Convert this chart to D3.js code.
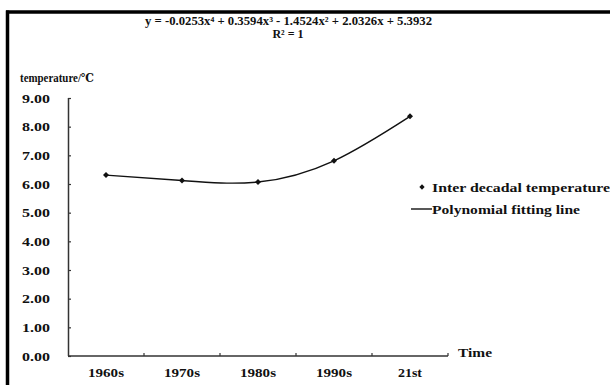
<!DOCTYPE html>
<html>
<head>
<meta charset="utf-8">
<script src="https://cdn.jsdelivr.net/npm/d3@7"></script>
<style>
  body { margin: 0; background: #fff; }
  text { font-family: "Liberation Serif", "DejaVu Serif", serif; font-weight: bold; fill: #111; }
</style>
</head>
<body>
<div id="chart"></div>
<script>
const categories = ['1960s', '1970s', '1980s', '1990s', '21st'];
const temperature = [6.31, 6.12, 6.07, 6.81, 8.36];
const yTicks = [0, 1, 2, 3, 4, 5, 6, 7, 8, 9];
const equation = 'y = -0.0253x\u2074 + 0.3594x\u00B3 - 1.4524x\u00B2 + 2.0326x + 5.3932';
const rSquared = 'R\u00B2 = 1';

const width = 610, height = 385;
const margin = { left: 68, right: 162, top: 98, bottom: 29 };

const svg = d3.select('#chart').append('svg')
  .attr('width', width)
  .attr('height', height);

svg.append('rect').attr('width', width).attr('height', height).attr('fill', '#fff');

// cropped frame: top and left edge only
svg.append('line').attr('x1', 6).attr('x2', width).attr('y1', 12).attr('y2', 12)
  .attr('stroke', '#000').attr('stroke-width', 3.5);
svg.append('line').attr('x1', 7.5).attr('x2', 7.5).attr('y1', 10.5).attr('y2', height)
  .attr('stroke', '#000').attr('stroke-width', 3.5);

const x = d3.scaleBand()
  .domain(categories)
  .range([margin.left, width - margin.right]);

const y = d3.scaleLinear()
  .domain([0, 9])
  .range([height - margin.bottom, margin.top]);

// y axis
const yAxis = svg.append('g')
  .attr('transform', `translate(${margin.left},0)`)
  .call(d3.axisRight(y).tickValues(yTicks).tickSize(3).tickFormat(''));
yAxis.select('.domain').attr('d', `M0.5,${y(9)}V${y(0)}`).attr('stroke', '#333').attr('stroke-width', 1.5);
yAxis.selectAll('.tick line').attr('stroke', '#333').attr('stroke-width', 1.2);

svg.append('g').selectAll('text')
  .data(yTicks)
  .join('text')
  .attr('x', 22)
  .attr('y', d => y(d) + 4.5)
  .attr('font-size', 13)
  .attr('textLength', 28)
  .attr('lengthAdjust', 'spacingAndGlyphs')
  .text(d => d3.format('.2f')(d));

// x axis
const xAxis = svg.append('g')
  .attr('transform', `translate(0,${y(0)})`);
xAxis.append('line')
  .attr('x1', margin.left).attr('x2', width - margin.right)
  .attr('stroke', '#333').attr('stroke-width', 1.5);
xAxis.selectAll('.xtick')
  .data(categories)
  .join('line')
  .attr('class', 'xtick')
  .attr('x1', d => x(d) + x.bandwidth())
  .attr('x2', d => x(d) + x.bandwidth())
  .attr('y1', 0).attr('y2', -3)
  .attr('stroke', '#333').attr('stroke-width', 1.2);
xAxis.selectAll('text')
  .data(categories)
  .join('text')
  .attr('x', d => x(d) + x.bandwidth() / 2 - (d.length === 5 ? 18 : 12))
  .attr('y', 21)
  .attr('font-size', 13)
  .attr('textLength', d => d.length === 5 ? 36 : 24)
  .attr('lengthAdjust', 'spacingAndGlyphs')
  .text(d => d);

svg.append('text')
  .attr('x', 458).attr('y', y(0) + 1)
  .attr('font-size', 13)
  .attr('textLength', 34)
  .attr('lengthAdjust', 'spacingAndGlyphs')
  .text('Time');

svg.append('text')
  .attr('x', 20).attr('y', 82)
  .attr('font-size', 12)
  .attr('textLength', 74)
  .attr('lengthAdjust', 'spacingAndGlyphs')
  .text('temperature/\u2103');

// equation
svg.append('text')
  .attr('x', 145).attr('y', 25)
  .attr('font-size', 12)
  .attr('textLength', 287)
  .attr('lengthAdjust', 'spacingAndGlyphs')
  .text(equation);
svg.append('text')
  .attr('x', 288).attr('y', 38)
  .attr('text-anchor', 'middle')
  .attr('font-size', 12)
  .text(rSquared);

// fitting line
const line = d3.line()
  .x((d, i) => x(categories[i]) + x.bandwidth() / 2)
  .y(d => y(d))
  .curve(d3.curveNatural);

svg.append('path')
  .datum(temperature)
  .attr('d', line)
  .attr('fill', 'none')
  .attr('stroke', '#111')
  .attr('stroke-width', 1.4);

svg.append('g').selectAll('path')
  .data(temperature)
  .join('path')
  .attr('transform', (d, i) => `translate(${x(categories[i]) + x.bandwidth() / 2},${y(d)}) rotate(45)`)
  .attr('d', d3.symbol(d3.symbolSquare, 18))
  .attr('fill', '#111');

// legend
const legend = svg.append('g');
legend.append('path')
  .attr('transform', 'translate(422,187) rotate(45)')
  .attr('d', d3.symbol(d3.symbolSquare, 14))
  .attr('fill', '#111');
legend.append('text')
  .attr('x', 432).attr('y', 191.5)
  .attr('font-size', 13)
  .attr('textLength', 178)
  .attr('lengthAdjust', 'spacingAndGlyphs')
  .text('Inter decadal temperature');
legend.append('line')
  .attr('x1', 411).attr('x2', 432).attr('y1', 209).attr('y2', 209)
  .attr('stroke', '#111').attr('stroke-width', 1.4);
legend.append('text')
  .attr('x', 432).attr('y', 213.5)
  .attr('font-size', 13)
  .attr('textLength', 148)
  .attr('lengthAdjust', 'spacingAndGlyphs')
  .text('Polynomial fitting line');
</script>
</body>
</html>
